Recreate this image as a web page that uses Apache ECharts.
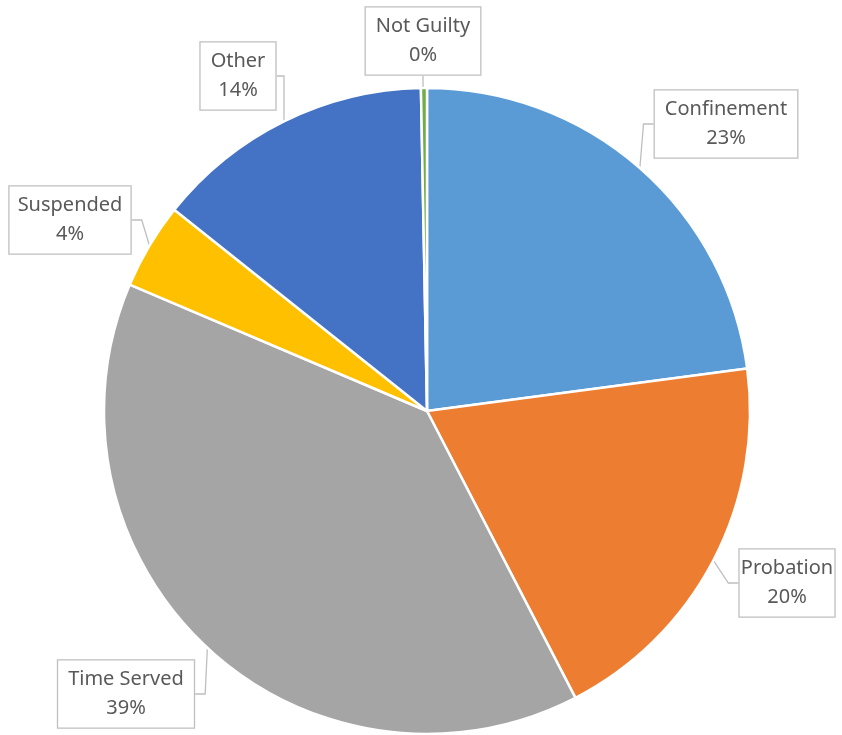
<!DOCTYPE html>
<html>
<head>
<meta charset="utf-8">
<script src="https://cdn.jsdelivr.net/npm/echarts@6/dist/echarts.min.js"></script>
<style>
  html, body { margin: 0; padding: 0; background: #fff; }
  #chart { width: 842px; height: 735px; }
</style>
</head>
<body>
<div id="chart"></div>
<script>
const categories = ['Confinement', 'Probation', 'Time Served', 'Suspended', 'Other', 'Not Guilty'];
const values = [22.9, 19.5, 39.0, 4.3, 14.0, 0.3];
const colors = ['#5B9BD5', '#ED7D31', '#A5A5A5', '#FFC000', '#4472C4', '#70AD47'];

// callout box centres, in pixels
const labelSpots = [[726, 124], [787, 583], [126, 694], [70, 220], [238, 76], [423, 41]];

const chart = echarts.init(document.getElementById('chart'));
chart.setOption({
  animation: false,
  series: [{
    type: 'pie',
    center: [427, 411],
    radius: 323,
    startAngle: 90,
    clockwise: true,
    data: categories.map((c, i) => ({ name: c, value: values[i], itemStyle: { color: colors[i] } })),
    itemStyle: { borderColor: '#fff', borderWidth: 2.5 },
    label: {
      show: true,
      position: 'outside',
      formatter: p => p.name + '\n' + Math.round(p.percent) + '%',
      fontFamily: '"Noto Sans", "Open Sans", sans-serif',
      fontSize: 20,
      lineHeight: 29,
      color: '#595959',
      backgroundColor: '#fff',
      borderColor: '#BFBFBF',
      borderWidth: 1.3,
      padding: [5, 10, 4, 10],
      align: 'center',
      overflow: 'none',
      edgeDistance: 0
    },
    labelLine: {
      show: true,
      length: 10,
      length2: 10,
      lineStyle: { color: '#BFBFBF', width: 1.3 }
    },
    labelLayout: p => ({
      x: labelSpots[p.dataIndex][0],
      y: labelSpots[p.dataIndex][1],
      align: 'center',
      verticalAlign: 'middle'
    })
  }]
});
</script>
</body>
</html>
